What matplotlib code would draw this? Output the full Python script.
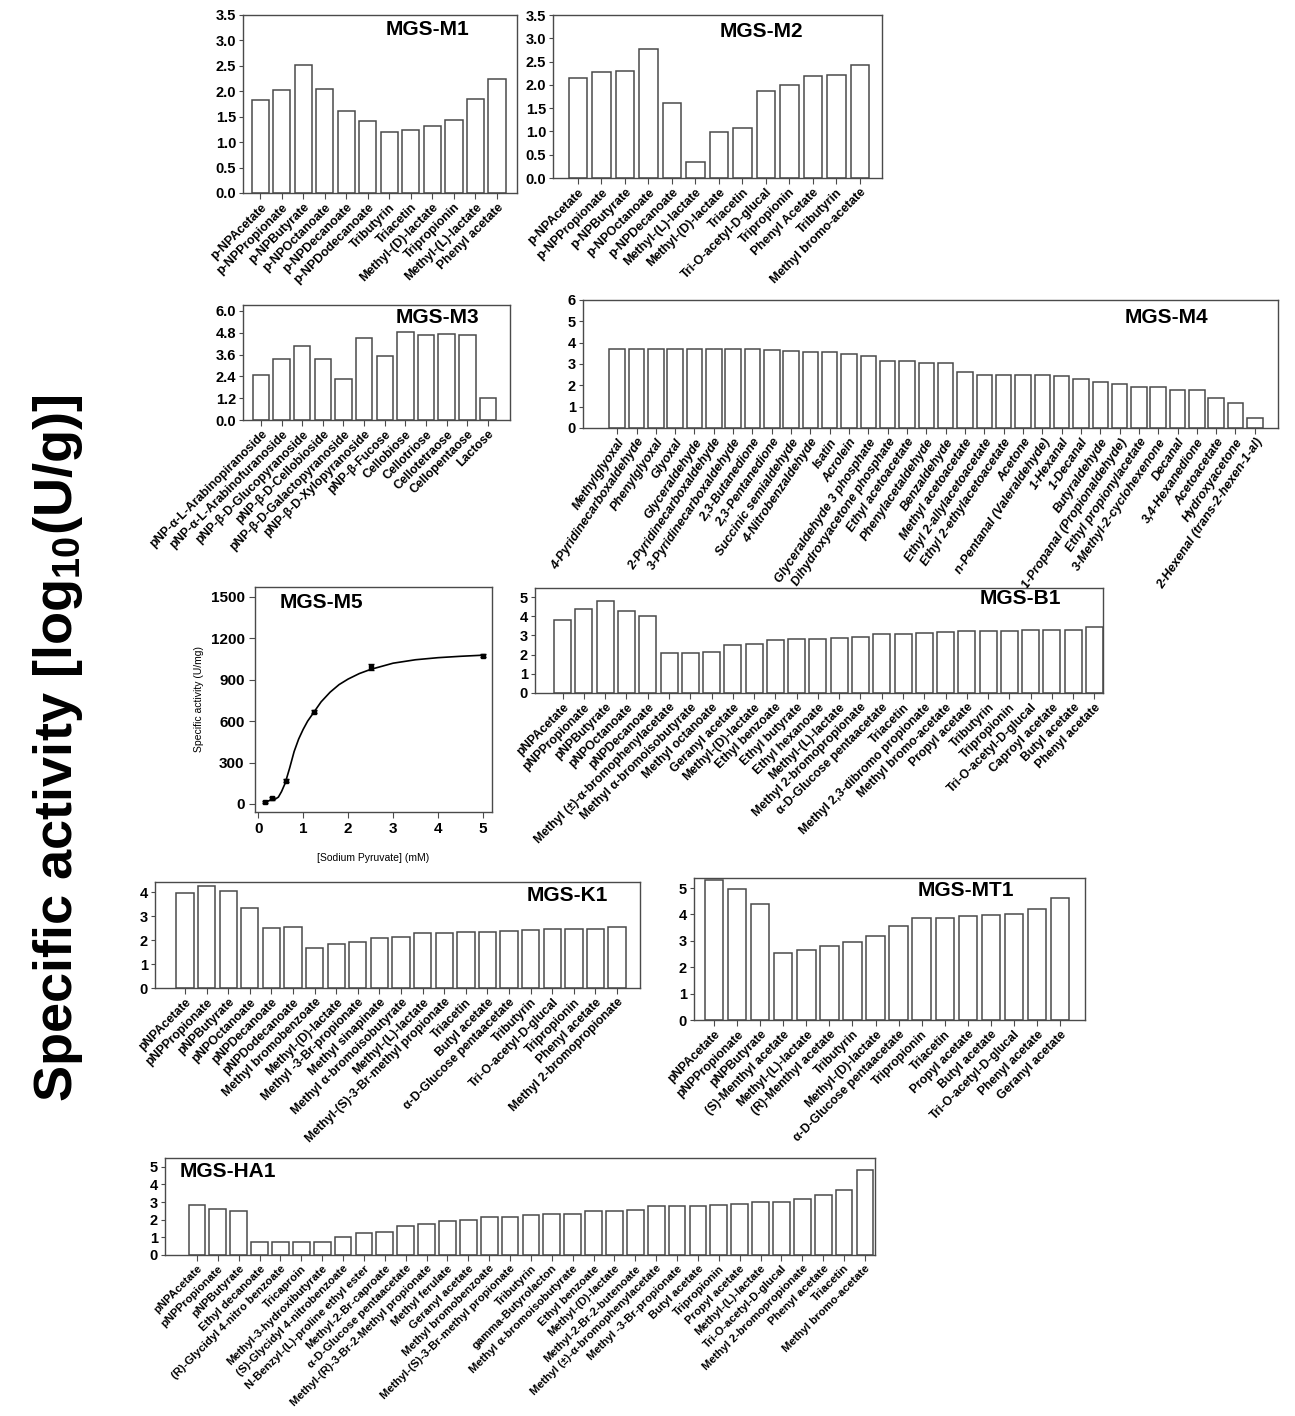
import matplotlib
matplotlib.use('Agg')
import matplotlib.pyplot as plt
import numpy as np

W, H = 1295, 1416

m1_labels = ['p-NPAcetate', 'p-NPPropionate', 'p-NPButyrate', 'p-NPOctanoate', 'p-NPDecanoate',
             'p-NPDodecanoate', 'Tributyrin', 'Triacetin', 'Methyl-(D)-lactate', 'Tripropionin',
             'Methyl-(L)-lactate', 'Phenyl acetate']
m1_values = [1.83, 2.02, 2.52, 2.05, 1.62, 1.42, 1.19, 1.24, 1.31, 1.44, 1.84, 2.24]

m2_labels = ['p-NPAcetate', 'p-NPPropionate', 'p-NPButyrate', 'p-NPOctanoate', 'p-NPDecanoate',
             'Methyl-(L)-lactate', 'Methyl-(D)-lactate', 'Triacetin', 'Tri-O-acetyl-D-glucal',
             'Tripropionin', 'Phenyl Acetate', 'Tributyrin', 'Methyl bromo-acetate']
m2_values = [2.15, 2.28, 2.30, 2.78, 1.60, 0.35, 0.99, 1.07, 1.87, 2.00, 2.18, 2.22, 2.42]

m3_labels = ['pNP-α-L-Arabinopiranoside', 'pNP-α-L-Arabinofuranoside', 'pNP-β-D-Glucopyranoside',
             'pNP-β-D-Cellobioside', 'pNP-β-D-Galactopyranoside', 'pNP-β-D-Xylopyranoside',
             'pNP-β-Fucose', 'Cellobiose', 'Cellotriose', 'Cellotetraose', 'Cellopentaose', 'Lactose']
m3_values = [2.45, 3.35, 4.10, 3.35, 2.25, 4.50, 3.55, 4.85, 4.70, 4.75, 4.70, 1.20]

m4_labels = ['Methylglyoxal', '4-Pyridinecarboxaldehyde', 'Phenylglyoxal', 'Glyoxal', 'Glyceraldehyde',
             '2-Pyridinecarboxaldehyde', '3-Pyridinecarboxaldehyde', '2,3-Butanedione',
             '2,3-Pentanedione', 'Succinic semialdehyde', '4-Nitrobenzaldehyde', 'Isatin', 'Acrolein',
             'Glyceraldehyde 3 phosphate', 'Dihydroxyacetone phosphate', 'Ethyl acetoacetate',
             'Phenylacetaldehyde', 'Benzaldehyde', 'Methyl acetoacetate', 'Ethyl 2-allylacetoacetate',
             'Ethyl 2-ethylacetoacetate', 'Acetone', 'n-Pentanal (Valeraldehyde)', '1-Hexanal',
             '1-Decanal', 'Butyraldehyde', '1-Propanal (Propionaldehyde)', 'Ethyl propionylacetate',
             '3-Methyl-2-cyclohexenone', 'Decanal', '3,4-Hexanedione', 'Acetoacetate',
             'Hydroxyacetone', '2-Hexenal (trans-2-hexen-1-al)']
m4_values = [3.72, 3.72, 3.72, 3.72, 3.72, 3.72, 3.72, 3.68, 3.65, 3.62, 3.57, 3.57, 3.45, 3.38,
             3.12, 3.12, 3.05, 3.05, 2.62, 2.50, 2.48, 2.47, 2.47, 2.46, 2.30, 2.15, 2.08, 1.93,
             1.92, 1.80, 1.80, 1.40, 1.15, 0.47]

m5_conc = [0.16, 0.31, 0.625, 1.25, 2.5, 5.0]
m5_activity = [15, 40, 170, 670, 995, 1075]
m5_err = [8, 10, 10, 12, 22, 10]
# fitted curve
m5_curve_x = [0.16, 0.25, 0.31, 0.38, 0.45, 0.52, 0.6, 0.7, 0.8, 0.9, 1.0, 1.1, 1.25, 1.4,
              1.6, 1.8, 2.0, 2.25, 2.5, 3.0, 3.5, 4.0, 4.5, 5.0]
m5_curve_y = [15, 25, 35, 35, 50, 90, 150, 260, 380, 470, 540, 600, 670, 740,
              810, 865, 905, 945, 975, 1020, 1045, 1060, 1070, 1078]

b1_labels = ['pNPAcetate', 'pNPPropionate', 'pNPButyrate', 'pNPOctanoate', 'pNPDecanoate',
             'Methyl (±)-α-bromophenylacetate', 'Methyl α-bromoisobutyrate', 'Methyl octanoate',
             'Geranyl acetate', 'Methyl-(D)-lactate', 'Ethyl benzoate', 'Ethyl butyrate',
             'Ethyl hexanoate', 'Methyl-(L)-lactate', 'Methyl 2-bromopropionate',
             'α-D-Glucose pentaacetate', 'Triacetin', 'Methyl 2,3-dibromo propionate',
             'Methyl bromo-acetate', 'Propyl acetate', 'Tributyrin', 'Tripropionin',
             'Tri-O-acetyl-D-glucal', 'Caproyl acetate', 'Butyl acetate', 'Phenyl acetate']
b1_values = [3.80, 4.35, 4.80, 4.25, 4.00, 2.10, 2.10, 2.15, 2.50, 2.55, 2.75, 2.80, 2.82, 2.87,
             2.90, 3.05, 3.08, 3.15, 3.20, 3.22, 3.22, 3.25, 3.27, 3.28, 3.30, 3.45]

k1_labels = ['pNPAcetate', 'pNPPropionate', 'pNPButyrate', 'pNPOctanoate', 'pNPDecanoate',
             'pNPDodecanoate', 'Methyl bromobenzoate', 'Methyl-(D)-lactate', 'Methyl -3-Br-propionate',
             'Methyl sinapinate', 'Methyl α-bromoisobutyrate', 'Methyl-(L)-lactate',
             'Methyl-(S)-3-Br-methyl propionate', 'Triacetin', 'Butyl acetate',
             'α-D-Glucose pentaacetate', 'Tributyrin', 'Tri-O-acetyl-D-glucal', 'Tripropionin',
             'Phenyl acetate', 'Methyl 2-bromopropionate']
k1_values = [3.95, 4.25, 4.05, 3.35, 2.52, 2.55, 1.68, 1.85, 1.90, 2.10, 2.12, 2.28, 2.30, 2.32,
             2.33, 2.38, 2.42, 2.45, 2.45, 2.48, 2.55]

mt1_labels = ['pNPAcetate', 'pNPPropionate', 'pNPButyrate', '(S)-Menthyl acetate',
              'Methyl-(L)-lactate', '(R)-Menthyl acetate', 'Tributyrin', 'Methyl-(D)-lactate',
              'α-D-Glucose pentaacetate', 'Tripropionin', 'Triacetin', 'Propyl acetate',
              'Butyl acetate', 'Tri-O-acetyl-D-glucal', 'Phenyl acetate', 'Geranyl acetate']
mt1_values = [5.30, 4.95, 4.40, 2.55, 2.65, 2.80, 2.95, 3.20, 3.55, 3.85, 3.88, 3.95, 3.98,
              4.00, 4.20, 4.62]

ha1_labels = ['pNPAcetate', 'pNPPropionate', 'pNPButyrate', 'Ethyl decanoate',
              '(R)-Glycidyl 4-nitro benzoate', 'Tricaproin', 'Methyl-3-hydroxibutyrate',
              '(S)-Glycidyl 4-nitrobenzoate', 'N-Benzyl-(L)-proline ethyl ester',
              'Methyl-2-Br-caproate', 'α-D-Glucose pentaacetate',
              'Methyl-(R)-3-Br-2-Methyl propionate', 'Methyl ferulate', 'Geranyl acetate',
              'Methyl bromobenzoate', 'Methyl-(S)-3-Br-methyl propionate', 'Tributyrin',
              'gamma-Butyrolacton', 'Methyl α-bromoisobutyrate', 'Ethyl benzoate',
              'Methyl-(D)-lactate', 'Methyl-2-Br-2-butenoate', 'Methyl (±)-α-bromophenylacetate',
              'Methyl -3-Br-propionate', 'Butyl acetate', 'Tripropionin', 'Propyl acetate',
              'Methyl-(L)-lactate', 'Tri-O-acetyl-D-glucal', 'Methyl 2-bromopropionate',
              'Phenyl acetate', 'Triacetin', 'Methyl bromo-acetate']
ha1_values = [2.85, 2.60, 2.52, 0.75, 0.75, 0.75, 0.75, 1.00, 1.22, 1.30, 1.62, 1.77, 1.95,
              1.98, 2.15, 2.17, 2.27, 2.32, 2.33, 2.50, 2.50, 2.57, 2.78, 2.78, 2.78, 2.85,
              2.87, 3.00, 3.02, 3.15, 3.38, 3.67, 4.80]

plt.rcParams['font.family'] = ['Liberation Sans', 'DejaVu Sans']
plt.rcParams['mathtext.default'] = 'regular'
EDGE = '#4a4a4a'

fig = plt.figure(figsize=(W / 100, H / 100), dpi=100)


def px_axes(x0, y0, x1, y1):
    return fig.add_axes([x0 / W, 1 - y1 / H, (x1 - x0) / W, (y1 - y0) / H])


def style_box(ax):
    for s in ax.spines.values():
        s.set_color(EDGE)
        s.set_linewidth(1.0)
    ax.tick_params(colors=EDGE, width=0.8, length=4, labelcolor='black')


def bar_panel(box, labels, values, title, txy, xlim, ylim, yticks, fmt='%d', ha='center',
              rot=45, lsize=8.8, lstyle='normal'):
    ax = px_axes(*box)
    x = np.arange(len(values))
    ax.bar(x, values, width=0.8, color='white', edgecolor=EDGE, linewidth=1.1)
    ax.set_xlim(*xlim)
    ax.set_ylim(*ylim)
    ax.set_yticks(yticks)
    ax.set_yticklabels([fmt % t for t in yticks], fontsize=10.5, fontweight='bold')
    ax.set_xticks(x)
    ax.set_xticklabels(labels, rotation=rot, ha='right', rotation_mode='anchor',
                       fontsize=lsize, fontweight='bold', fontstyle=lstyle)
    style_box(ax)
    ax.tick_params(axis='y', length=3, pad=2)
    ax.tick_params(axis='x', length=4, pad=2)
    ax.text(txy[0], txy[1], title, transform=ax.transAxes, ha=ha, va='center',
            fontsize=15, fontweight='bold')
    return ax


bar_panel((243, 15, 517, 193), m1_labels, m1_values, 'MGS-M1', (0.675, 0.916),
          (-0.8, 11.93), (0, 3.5), np.arange(0, 3.51, 0.5), '%.1f', lsize=9)
bar_panel((553, 15, 882, 178), m2_labels, m2_values, 'MGS-M2', (0.635, 0.9),
          (-1.06, 12.94), (0, 3.5), np.arange(0, 3.51, 0.5), '%.1f', lsize=9)
bar_panel((243, 305, 510, 420), m3_labels, m3_values, 'MGS-M3', (0.73, 0.89),
          (-0.87, 12.07), (0, 6.33), np.arange(0, 6.01, 1.2), '%.1f')
bar_panel((583, 300, 1278, 428), m4_labels, m4_values, 'MGS-M4', (0.84, 0.86),
          (-1.77, 34.2), (0, 6.0), np.arange(0, 7, 1), rot=56, lsize=9, lstyle='italic')
bar_panel((535, 588, 1103, 693), b1_labels, b1_values, 'MGS-B1', (0.854, 0.9),
          (-1.3, 25.4), (0, 5.47), np.arange(0, 6, 1))
bar_panel((155, 882, 640, 988), k1_labels, k1_values, 'MGS-K1', (0.85, 0.87),
          (-1.39, 21.06), (0, 4.42), np.arange(0, 5, 1))
bar_panel((694, 878, 1085, 1020), mt1_labels, mt1_values, 'MGS-MT1', (0.696, 0.915),
          (-0.87, 16.08), (0, 5.38), np.arange(0, 6, 1))
bar_panel((165, 1158, 875, 1255), ha1_labels, ha1_values, 'MGS-HA1', (0.02, 0.86),
          (-1.53, 32.48), (0, 5.5), np.arange(0, 6, 1), ha='left', lsize=8.2)

# MGS-M5 kinetic curve
ax5 = px_axes(255, 587, 492, 812)
ax5.plot(m5_curve_x, m5_curve_y, color='black', linewidth=1.2)
ax5.errorbar(m5_conc, m5_activity, yerr=m5_err, fmt='s', color='black', markersize=3.5,
             capsize=2, elinewidth=1)
ax5.set_xlim(-0.07, 5.2)
ax5.set_ylim(-58, 1572)
ax5.set_xticks(range(0, 6))
ax5.set_yticks(range(0, 1501, 300))
ax5.tick_params(labelsize=11)
for t in ax5.get_xticklabels() + ax5.get_yticklabels():
    t.set_fontweight('bold')
style_box(ax5)
ax5.set_xlabel('[Sodium Pyruvate] (mM)', fontsize=7.5, labelpad=12)
ax5.set_ylabel('Specific activity (U/mg)', fontsize=7.5, labelpad=5)
ax5.text(0.105, 0.93, 'MGS-M5', transform=ax5.transAxes, ha='left', va='center',
         fontsize=15, fontweight='bold')

fig.text(58 / W, 1 - 748 / H, 'Specific activity [log$_{10}$(U/g)]', rotation=90,
         ha='center', va='center', fontsize=39, fontweight='bold')

fig.savefig('out.png', dpi=100)
